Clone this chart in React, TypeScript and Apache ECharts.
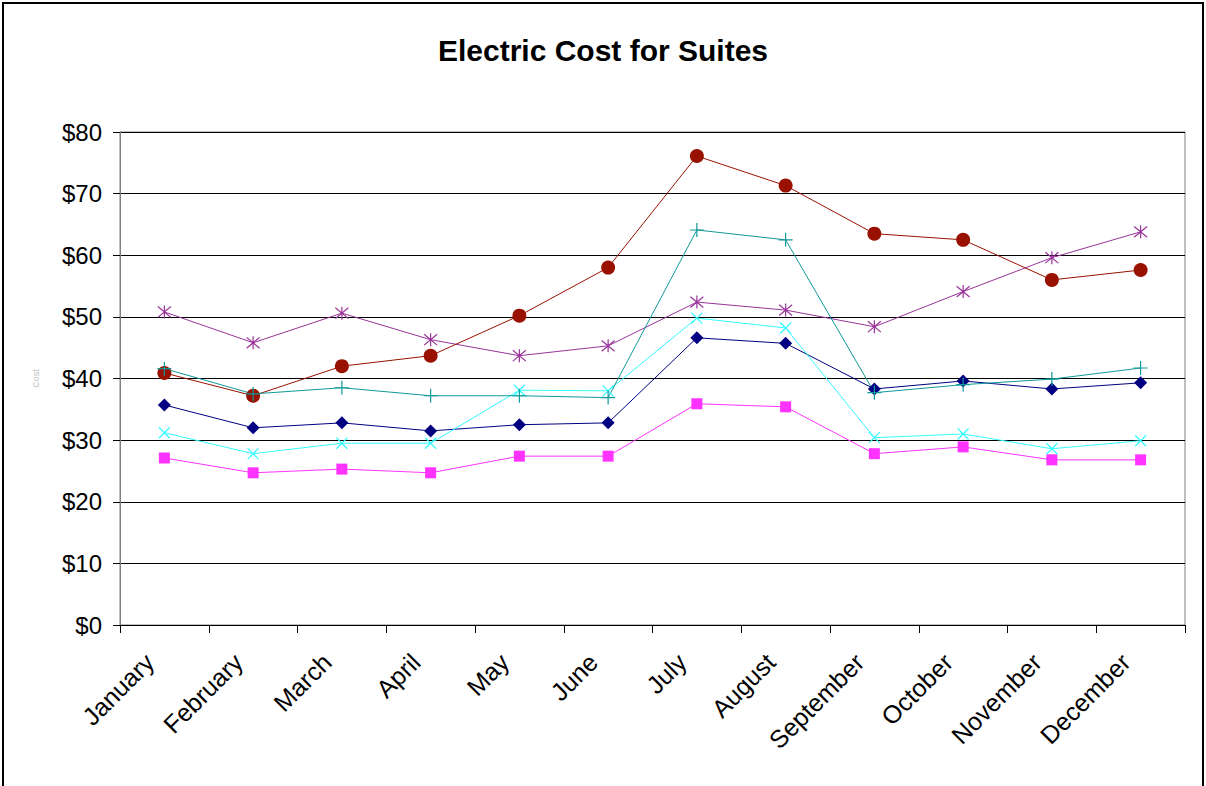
import React, { useEffect, useRef } from "react";
import * as echarts from "echarts";

const months = ["January", "February", "March", "April", "May", "June", "July", "August", "September", "October", "November", "December"];
const suiteA = [35.7, 32.0, 32.8, 31.5, 32.5, 32.8, 46.6, 45.7, 38.3, 39.6, 38.3, 39.3];
const suiteB = [27.1, 24.7, 25.3, 24.7, 27.4, 27.4, 35.9, 35.4, 27.8, 28.9, 26.8, 26.8];
const suiteC = [31.2, 27.8, 29.5, 29.5, 38.1, 38.0, 49.8, 48.2, 30.4, 31.0, 28.6, 29.9];
const suiteD = [50.8, 45.8, 50.6, 46.3, 43.7, 45.3, 52.4, 51.1, 48.4, 54.1, 59.6, 63.8];
const suiteE = [40.9, 37.2, 42.0, 43.7, 50.2, 58.0, 76.1, 71.3, 63.5, 62.5, 56.0, 57.6];
const suiteF = [41.6, 37.5, 38.5, 37.2, 37.2, 36.9, 64.1, 62.5, 37.7, 39.0, 39.9, 41.7];
const yTicks = [0, 10, 20, 30, 40, 50, 60, 70, 80];

const FONT = "'Liberation Sans', Arial, sans-serif";

const X_PATH = "path://M0,0L10,10M10,0L0,10";
const STAR_PATH = "path://M0,0L10,10M10,0L0,10M5,-1L5,11";
const PLUS_PATH = "path://M6,0L6,12M0,6L12,6";

function makeSeries(name: string, data: number[], color: string, symbol: string, size: number, stroke: boolean) {
  return {
    name,
    type: "line",
    data,
    symbol,
    symbolSize: size,
    showSymbol: true,
    lineStyle: { color, width: 1 },
    itemStyle: stroke
      ? { color: "rgba(0,0,0,0)", borderColor: color, borderWidth: 1.2 }
      : { color, borderWidth: 0 },
    emphasis: { disabled: true },
  };
}

export default function App() {
  const ref = useRef<HTMLDivElement>(null);
  useEffect(() => {
    if (!ref.current) return;
    const chart = echarts.init(ref.current, null, { renderer: "svg" });
    chart.setOption({
      animation: false,
      backgroundColor: "#ffffff",
      title: {
        text: "Electric Cost for Suites",
        left: "center",
        top: 30,
        textStyle: { fontFamily: FONT, fontSize: 30, fontWeight: "bold", color: "#000" },
      },
      graphic: [
        {
          type: "rect",
          shape: { x: 3, y: 3, width: 1200, height: 900 },
          style: { fill: "none", stroke: "#000", lineWidth: 2 },
          silent: true,
          z: 100,
        },
      ],
      grid: {
        left: 120,
        right: 21,
        top: 132,
        bottom: 161,
        show: true,
        borderColor: "#808080",
        borderWidth: 1,
        backgroundColor: "transparent",
      },
      xAxis: {
        type: "category",
        data: months,
        boundaryGap: true,
        axisLine: { lineStyle: { color: "#000", width: 1 } },
        axisTick: { show: true, alignWithLabel: false, length: 8, lineStyle: { color: "#000" } },
        axisLabel: {
          rotate: 45,
          margin: 18,
          padding: [0, 21, 0, 0],
          fontFamily: FONT,
          fontSize: 25,
          color: "#000",
          interval: 0,
        },
        splitLine: { show: false },
      },
      yAxis: {
        type: "value",
        min: yTicks[0],
        max: yTicks[yTicks.length - 1],
        interval: 10,
        name: "Cost",
        nameLocation: "middle",
        nameRotate: 90,
        nameGap: 80,
        nameTextStyle: { fontFamily: FONT, fontSize: 9, color: "#c0c0c0" },
        axisLine: { show: true, lineStyle: { color: "#808080", width: 1 } },
        axisTick: { show: true, length: 7, lineStyle: { color: "#000" } },
        axisLabel: {
          margin: 18,
          fontFamily: FONT,
          fontSize: 24,
          color: "#000",
          formatter: (v: number) => "$" + v,
        },
        splitLine: { show: true, lineStyle: { color: "#000", width: 1 } },
      },
      series: [
        makeSeries("Suite 1", suiteA, "#000080", "diamond", 13, false),
        makeSeries("Suite 2", suiteB, "#FF33FF", "rect", 11, false),
        makeSeries("Suite 3", suiteC, "#33FFFF", X_PATH, 11, true),
        makeSeries("Suite 4", suiteD, "#993399", STAR_PATH, 13, true),
        makeSeries("Suite 5", suiteE, "#991100", "circle", 14, false),
        makeSeries("Suite 6", suiteF, "#119999", PLUS_PATH, 14, true),
      ],
    });
    return () => chart.dispose();
  }, []);
  return (
    <div
      ref={ref}
      style={{ position: "fixed", left: 0, top: 0, width: 1206, height: 786, background: "#fff" }}
    />
  );
}
